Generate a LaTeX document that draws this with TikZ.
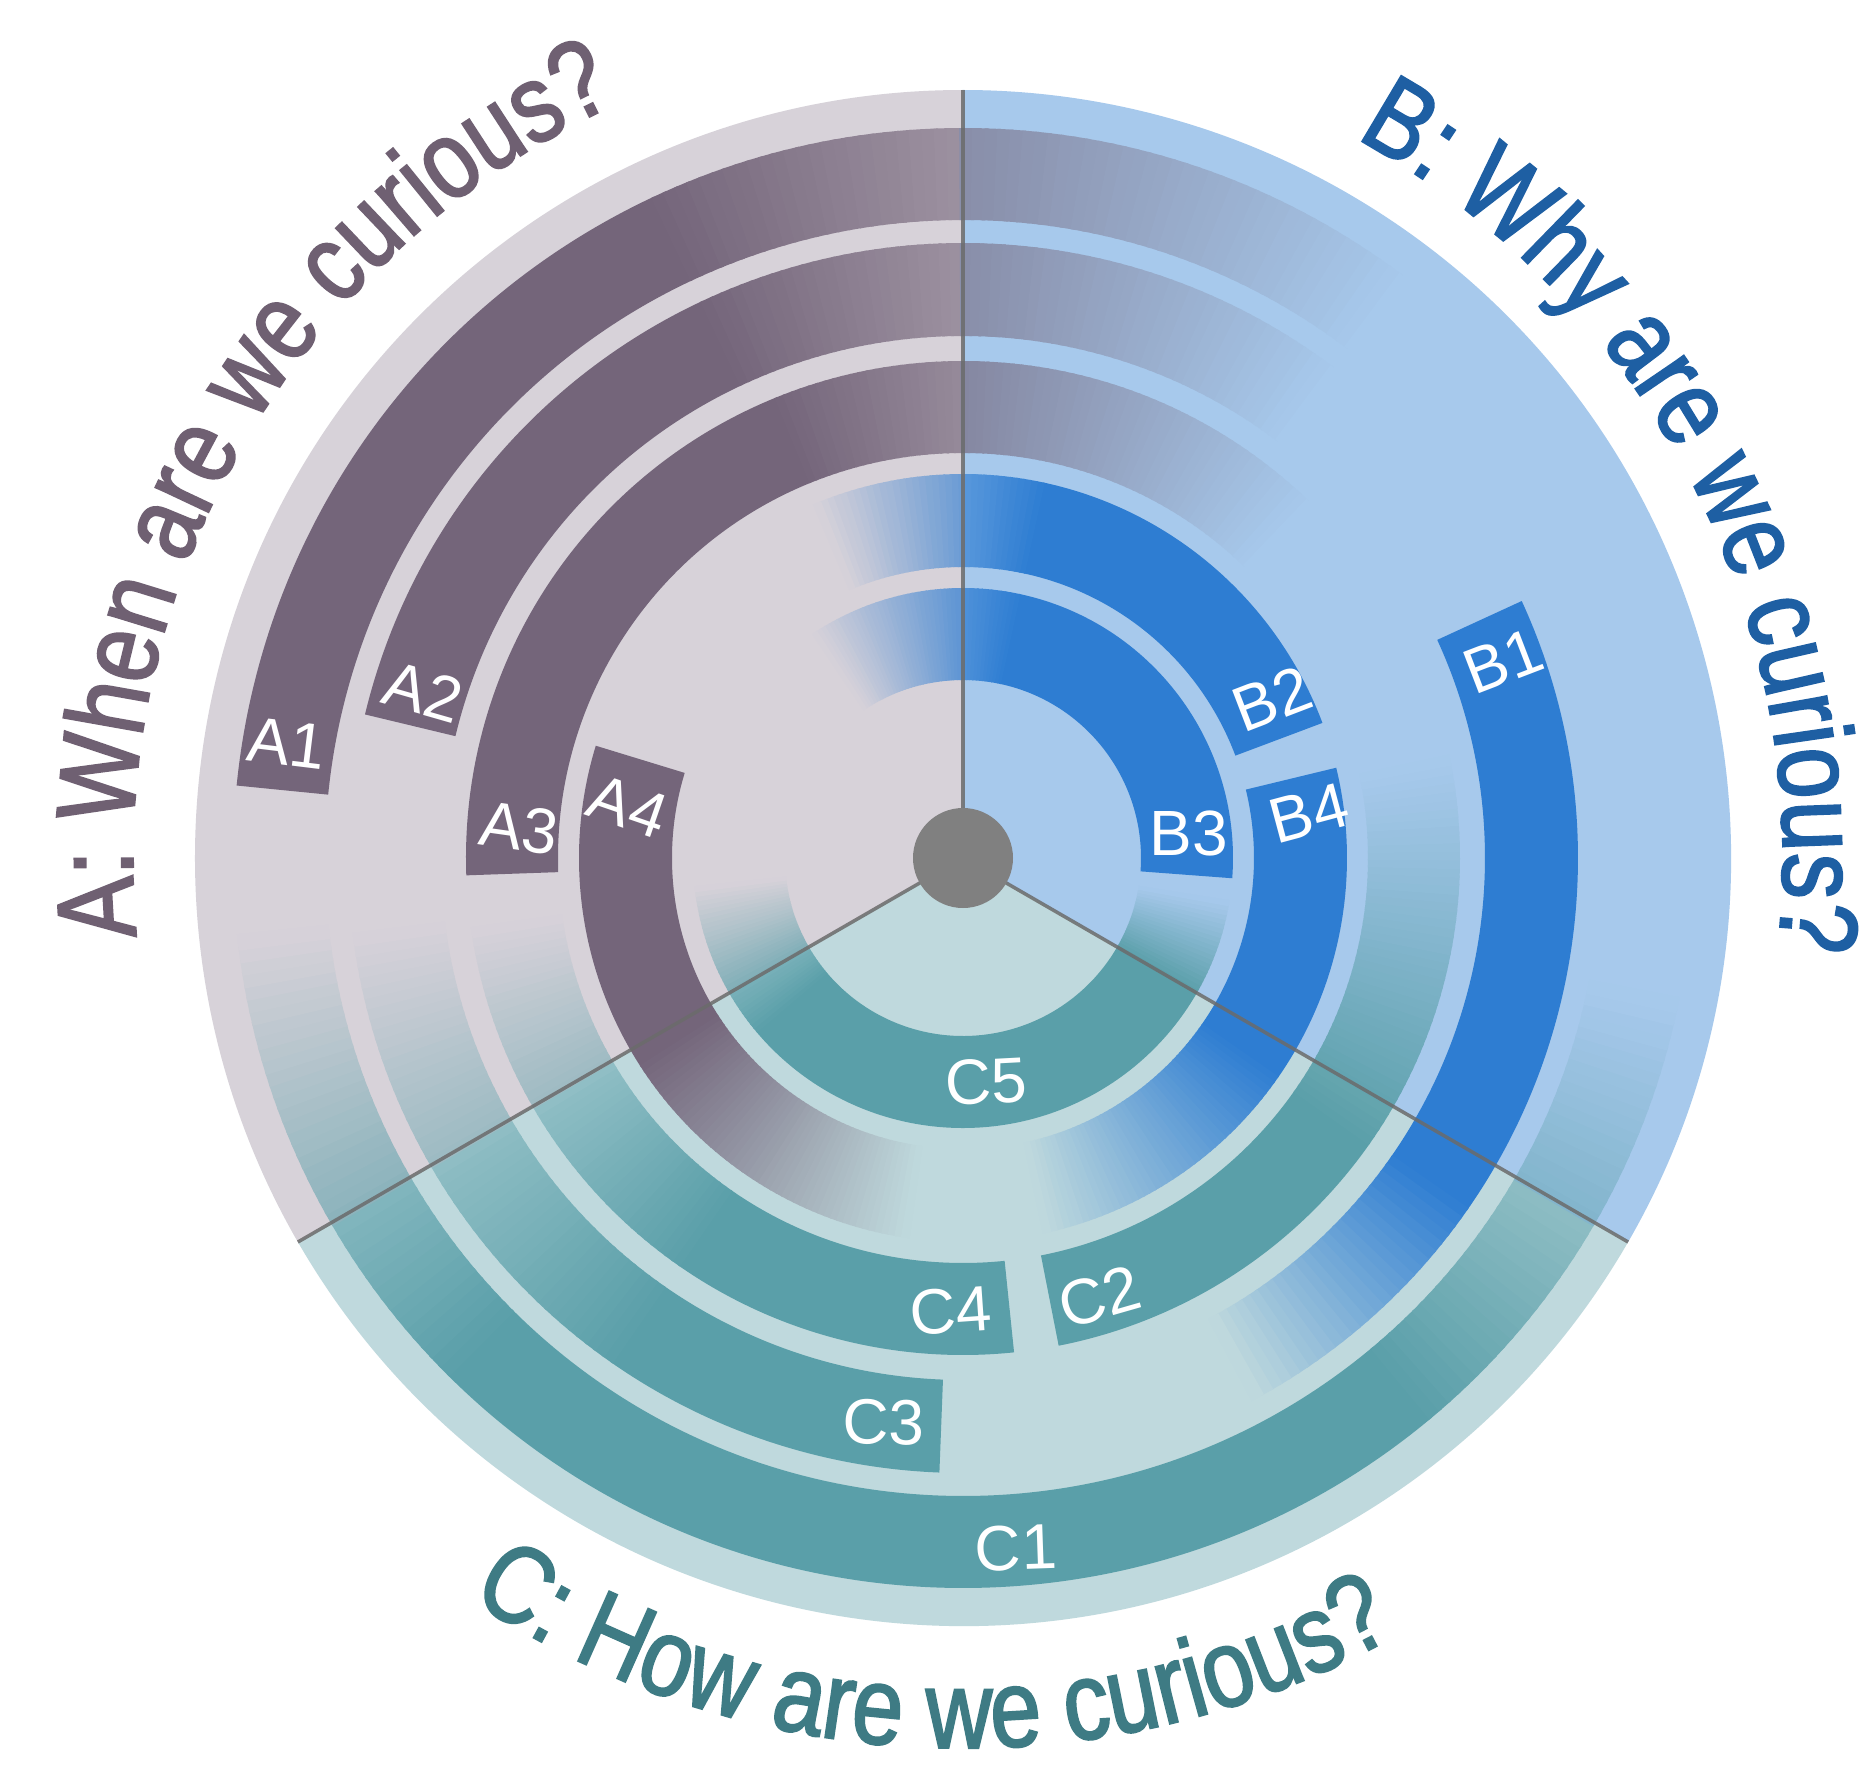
\documentclass[tikz,border=0pt]{standalone}
\usepackage{fontspec}
\setmainfont{Liberation Sans}
\newfontfamily\titlefont[FakeStretch=0.83,FakeBold=1.8]{Liberation Sans}
\usetikzlibrary{decorations.text}
\definecolor{bgA}{HTML}{D7D2D9}
\definecolor{bgB}{HTML}{A7C9EC}
\definecolor{bgC}{HTML}{BFD9DD}
\definecolor{colA}{HTML}{74657A}
\definecolor{colB}{HTML}{2E7DD2}
\definecolor{colC}{HTML}{5A9FA9}
\definecolor{titA}{HTML}{6F6072}
\definecolor{titB}{HTML}{1E5FA3}
\definecolor{titC}{HTML}{3E7B84}
\definecolor{divgray}{HTML}{6B6B6B}
\definecolor{hubgray}{HTML}{808080}

% solid annular segment: rin rout a b color
\newcommand\bandseg[5]{\fill[#5] (#3:#1) arc[start angle=#3, end angle=#4, radius=#1] -- (#4:#2) arc[start angle=#4, end angle=#3, radius=#2] -- cycle;}
% fading annular segment: rin rout a(full) b(faded) color
\newcommand\fadeband[5]{%
  \pgfmathsetmacro\fspan{#4-(#3)}%
  \pgfmathtruncatemacro\fN{abs(\fspan)}%
  \foreach \k in {1,...,\fN}{%
    \pgfmathsetmacro\ta{#3+\fspan*(\k-1.3)/\fN}%
    \pgfmathsetmacro\tb{#3+\fspan*(\k)/\fN}%
    \pgfmathsetmacro\tm{mod(#3+\fspan*(\k-0.5)/\fN+750,360)-30}%
    \pgfmathtruncatemacro\pct{100*(1-(\k-0.5)/\fN)}%
    \pgfmathtruncatemacro\secnum{\tm<90 ? 1 : (\tm<210 ? 2 : 3)}%
    \ifcase\secnum\def\bgc{bgB}\or\def\bgc{bgB}\or\def\bgc{bgA}\else\def\bgc{bgC}\fi
    \fill[color=#5!\pct!\bgc] (\ta:#1) arc[start angle=\ta, end angle=\tb, radius=#1] -- (\tb:#2) arc[start angle=\tb, end angle=\ta, radius=#2] -- cycle;
  }}

\newcommand\tfA{\titlefont\fontsize{31.5pt}{36pt}\selectfont\color{titA}}
\newcommand\tfB{\titlefont\fontsize{31.5pt}{36pt}\selectfont\color{titB}}
\newcommand\tfC{\titlefont\fontsize{31.5pt}{36pt}\selectfont\color{titC}}

\tikzset{
  lbl/.style={text=white, font=\fontsize{18.2pt}{20pt}\selectfont, inner sep=0pt},
  divider/.style={draw=divgray, line width=1pt, opacity=0.85},
  hub/.style={circle, fill=hubgray, minimum size=1.0cm, inner sep=0pt},
}

\begin{document}
\begin{tikzpicture}
\useasboundingbox (-9.63,-9.11) rectangle (9.11,8.58);
\fill[white] (-9.63,-9.11) rectangle (9.11,8.58);

% sector backgrounds
\fill[bgB] (0,0) -- (-30:7.68) arc[start angle=-30,end angle=90,radius=7.68] -- cycle;
\fill[bgA] (0,0) -- (90:7.68) arc[start angle=90,end angle=210,radius=7.68] -- cycle;
\fill[bgC] (0,0) -- (210:7.68) arc[start angle=210,end angle=330,radius=7.68] -- cycle;

% ring radii: R1 6.38-7.30, R2 5.22-6.15, R3 4.05-4.97, R4 2.91-3.84, R5 1.78-2.70
% A arcs
\bandseg{6.38}{7.30}{174.3}{115}{colA}
\fadeband{6.38}{7.30}{115}{52}{colA}
\bandseg{5.22}{6.15}{166.5}{115}{colA}
\fadeband{5.22}{6.15}{115}{52}{colA}
\bandseg{4.05}{4.97}{182}{112}{colA}
\fadeband{4.05}{4.97}{112}{45}{colA}
\bandseg{2.91}{3.84}{163}{213}{colA}
\fadeband{2.91}{3.84}{213}{262}{colA}
% B arcs
\bandseg{5.22}{6.15}{24.7}{-35}{colB}
\fadeband{5.22}{6.15}{-35}{-62}{colB}
\bandseg{2.91}{3.84}{20.6}{78}{colB}
\fadeband{2.91}{3.84}{78}{113}{colB}
\bandseg{1.78}{2.70}{-4.3}{78}{colB}
\fadeband{1.78}{2.70}{78}{124}{colB}
\bandseg{2.91}{3.84}{13.6}{-35}{colB}
\fadeband{2.91}{3.84}{-35}{-78}{colB}
% C arcs
\bandseg{6.38}{7.30}{225}{310}{colC}
\fadeband{6.38}{7.30}{225}{186}{colC}
\fadeband{6.38}{7.30}{310}{349}{colC}
\bandseg{4.05}{4.97}{-78.9}{-35}{colC}
\fadeband{4.05}{4.97}{-35}{12}{colC}
\bandseg{5.22}{6.15}{267.8}{235}{colC}
\fadeband{5.22}{6.15}{235}{187}{colC}
\bandseg{4.05}{4.97}{275.9}{235}{colC}
\fadeband{4.05}{4.97}{235}{188}{colC}
\bandseg{1.78}{2.70}{220}{330}{colC}
\fadeband{1.78}{2.70}{220}{186}{colC}
\fadeband{1.78}{2.70}{330}{351}{colC}

% dividers and hub
\coordinate (O) at (0,0);
\coordinate (eAB) at (90:7.68);
\coordinate (eAC) at (210:7.68);
\coordinate (eBC) at (330:7.68);
\draw[divider] (O) -- (eAB);
\draw[divider] (O) -- (eAC);
\draw[divider] (O) -- (eBC);
\node[hub] (hub) at (O) {};

% labels
\node[lbl, rotate=-7]  (lA1) at (170.4:6.86) {A1};
\node[lbl, rotate=-16] (lA2) at (162.9:5.65) {A2};
\node[lbl, rotate=-8]  (lA3) at (176.1:4.45) {A3};
\node[lbl, rotate=-19] (lA4) at (171.2:3.39) {A4};
\node[lbl, rotate=21]  (lB1) at (20.0:5.75) {B1};
\node[lbl, rotate=21]  (lB2) at (27.2:3.48) {B2};
\node[lbl, rotate=0]   (lB3) at (6.1:2.27) {B3};
\node[lbl, rotate=15]  (lB4) at (7.4:3.49) {B4};
\node[lbl, rotate=2]   (lC1) at (-85.6:6.92) {C1};
\node[lbl, rotate=16]  (lC2) at (-72.7:4.60) {C2};
\node[lbl, rotate=-1]  (lC3) at (-98:5.70) {C3};
\node[lbl, rotate=4]   (lC4) at (-91.6:4.53) {C4};
\node[lbl, rotate=3]   (lC5) at (-84:2.25) {C5};

% titles
\path[decorate, decoration={text along path, text align=center,
  text={|\tfA|A: When are we curious?}}]
  (200:8.30) arc[start angle=200, end angle=100, radius=8.30];
\path[decorate, decoration={text along path, text align=center,
  text={|\tfB|B: Why are we curious?}}]
  (78:8.20) arc[start angle=78, end angle=-23, radius=8.20];
\path[decorate, decoration={text along path, text align=center,
  text={|\tfC|C: How are we curious?}}]
  (217:8.90) arc[start angle=217, end angle=318.5, radius=8.90];
\end{tikzpicture}
\end{document}
